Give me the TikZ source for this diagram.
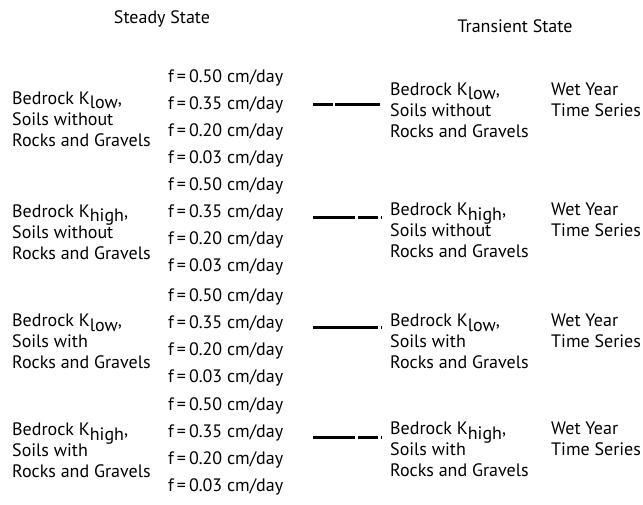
\documentclass[tikz,border=0pt]{standalone}
\usepackage{fontspec}
\setmainfont{PT Sans}
\usetikzlibrary{positioning}
\newcommand{\bedk}[1]{Bedrock K\raisebox{-0.45ex}{#1},}

\begin{document}
\begin{tikzpicture}[x=1pt, y=-1pt,
        every node/.style={font=\fontsize{18}{21}\selectfont, inner sep=0pt},
        case/.style={align=left, anchor=north west},
        rate/.style={anchor=west},
        link/.style={line width=3pt, shorten >=8pt},
        linkA/.style={link, dash pattern=on 20pt off 2pt on 45pt off 20pt},
        linkB/.style={link, dash pattern=on 42pt off 3pt on 20pt off 3pt on 1.5pt off 20pt},
        linkC/.style={link, dash pattern=on 65pt off 3pt on 1.5pt off 20pt}]
        \useasboundingbox (0,0) rectangle (643,504);

        % Headings
        \node (steady) at (162,19) {Steady State};
        \node (trans) at (515,26) {Transient State};

        % Rows: steady case, rates, link, transient case
        \foreach \r/\ys/\yf/\yl/\yt/\k/\s/\st in {
                1/92/118/104/83/low/without/linkA,
                2/205/226.5/217/203/high/without/linkB,
                3/314/337/327/314/low/with/linkC,
                4/423/446/437/422/high/with/linkB} {
                \node[case] (s\r) at (12,\ys) {\bedk{\k}\\Soils \s\\Rocks and Gravels};
                \foreach \v [count=\i] in {0.50,0.35,0.20,0.03}
                        \node[rate] (f\r\i) at (168,{\yf-67.5+27*\i}) {f\,=\,\v\ cm/day};
                \node[case] (t\r) at (390,\yt) {\bedk{\k}\\Soils \s\\Rocks and Gravels};
                \node[case] (w\r) at (551,\yt) {Wet Year\\Time Series};
                \coordinate (c\r) at (313,\yl);
                \draw[\st] (c\r) -- (c\r -| t\r.west);
        }
\end{tikzpicture}
\end{document}
